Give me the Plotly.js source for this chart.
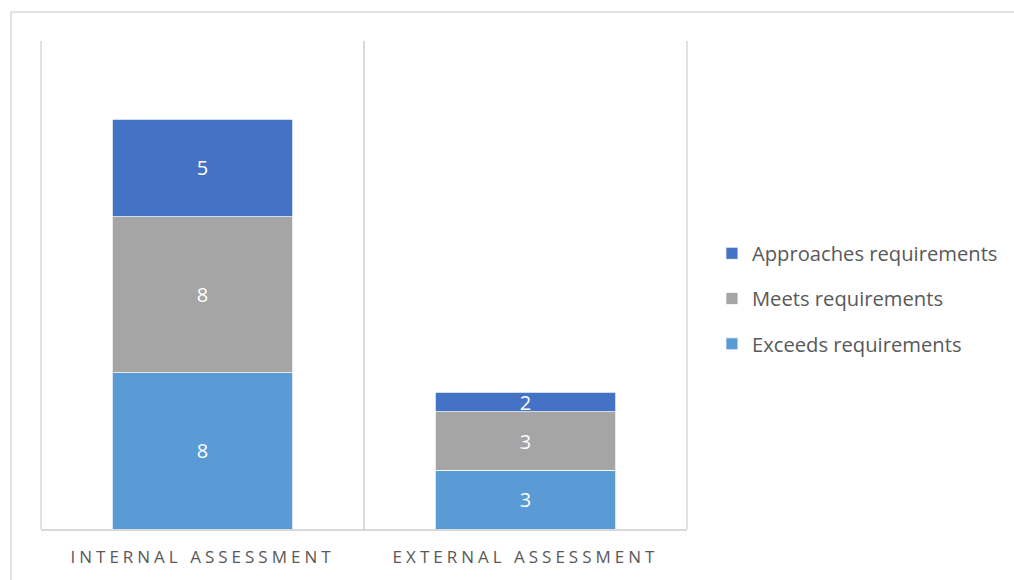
<!DOCTYPE html>
<html>
<head>
<meta charset="utf-8">
<script src="https://cdn.plot.ly/plotly-3.0.1.min.js"></script>
<style>
html,body{margin:0;padding:0;background:#fff;}
#chart{width:1014px;height:580px;}
</style>
</head>
<body>
<div id="chart"></div>
<script>
const categories = ["INTERNAL ASSESSMENT", "EXTERNAL ASSESSMENT"];
const seriesNames = ["Exceeds requirements", "Meets requirements", "Approaches requirements"];
const exceedsValues = [8, 3];
const meetsValues = [8, 3];
const approachesValues = [5, 1];
const exceedsLabels = ["8", "3"];
const meetsLabels = ["8", "3"];
const approachesLabels = ["5", "2"];
const seriesColors = ["#5B9BD5", "#A5A5A5", "#4472C4"];

const FONT = "Open Sans, Segoe UI, sans-serif";
const values = [exceedsValues, meetsValues, approachesValues];
const labels = [exceedsLabels, meetsLabels, approachesLabels];

const traces = seriesNames.map((name, i) => ({
  type: "bar",
  name: name,
  legendgroup: "g" + i,
  legendrank: 1000 - i,
  x: categories,
  y: values[i],
  text: labels[i],
  texttemplate: "%{text}",
  textposition: "inside",
  insidetextanchor: "middle",
  textangle: 0,
  constraintext: "none",
  textfont: {family: FONT, size: 20, color: "#ffffff"},
  marker: {color: seriesColors[i], line: {color: "#ffffff", width: 0.75}},
  hoverinfo: "skip"
}));

const layout = {
  width: 1014,
  height: 580,
  margin: {l: 41, r: 326, t: 41, b: 50.5},
  paper_bgcolor: "#ffffff",
  plot_bgcolor: "#ffffff",
  barmode: "stack",
  bargap: 0.44,
  showlegend: true,
  legend: {
    x: 1.037, y: 0.472, xanchor: "left", yanchor: "middle",
    traceorder: "grouped",
    tracegroupgap: 16,
    font: {family: FONT, size: 20.2, color: "#595959"},
    bgcolor: "rgba(0,0,0,0)"
  },
  xaxis: {
    type: "category",
    tickson: "boundaries",
    showgrid: true,
    gridcolor: "#d9d9d9",
    gridwidth: 1.5,
    showline: true,
    linecolor: "#d9d9d9",
    linewidth: 1.5,
    ticks: "",
    ticklabelstandoff: 12,
    tickfont: {family: FONT, size: 17, color: "#595959"},
    fixedrange: true
  },
  yaxis: {
    range: [0, 25],
    showgrid: false,
    zeroline: false,
    showline: false,
    showticklabels: false,
    ticks: "",
    fixedrange: true
  },
  shapes: [
    {type: "line", xref: "paper", yref: "paper", x0: -0.0464, x1: 1.7, y0: 1.0594, y1: 1.0594, line: {color: "#d9d9d9", width: 1.5}},
    {type: "line", xref: "paper", yref: "paper", x0: -0.0464, x1: -0.0464, y0: -0.2, y1: 1.0594, line: {color: "#d9d9d9", width: 1.5}},
    {type: "line", xref: "paper", yref: "paper", x0: 0, x1: 0, y0: 0, y1: 1, line: {color: "#d9d9d9", width: 1.5}, layer: "below"},
    {type: "line", xref: "paper", yref: "paper", x0: 1, x1: 1, y0: 0, y1: 1, line: {color: "#d9d9d9", width: 1.5}, layer: "below"}
  ]
};

Plotly.newPlot("chart", traces, layout, {displayModeBar: false, staticPlot: true}).then(() => {
  document.querySelectorAll(".xtick text").forEach(t => { t.style.letterSpacing = "4px"; });
});
</script>
</body>
</html>
